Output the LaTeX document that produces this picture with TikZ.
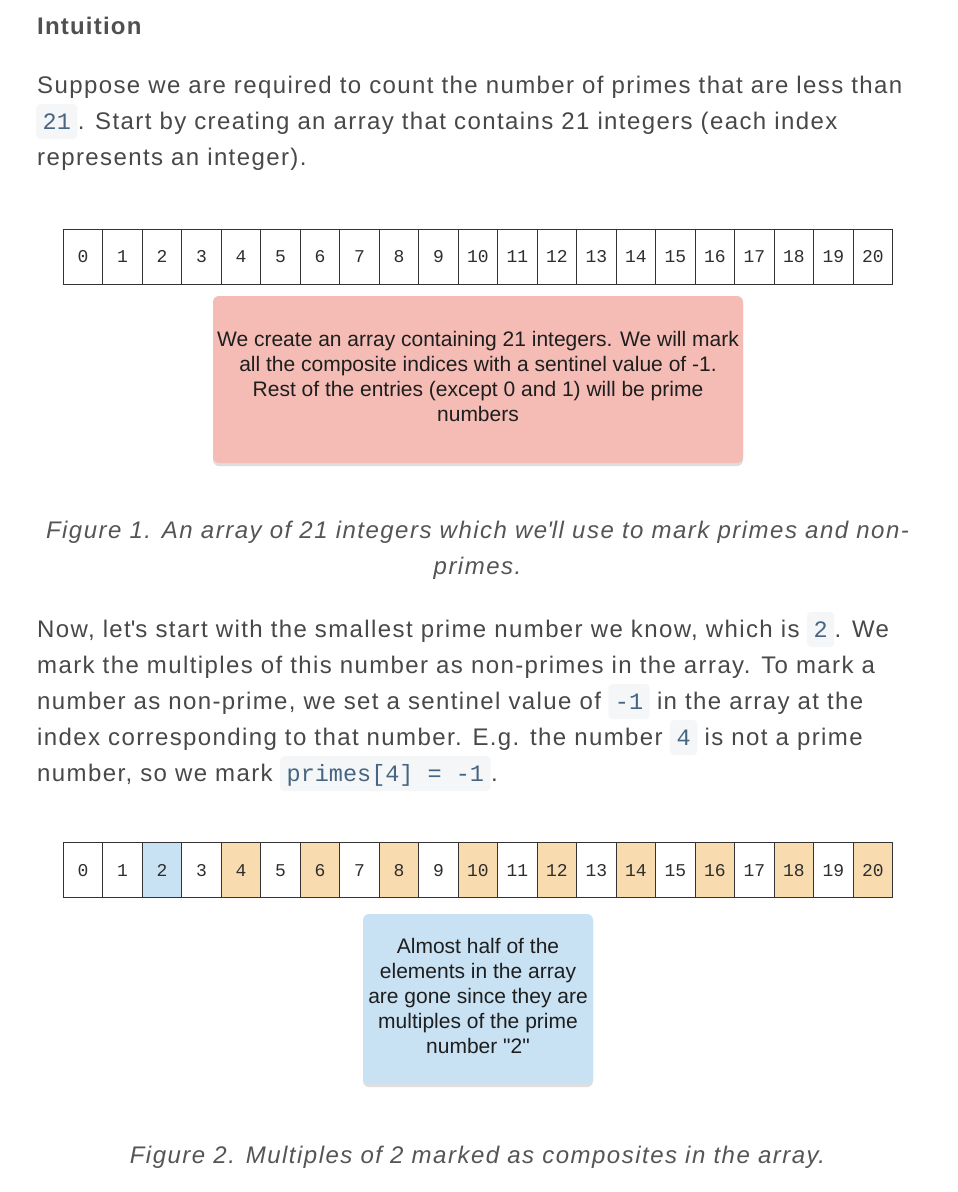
\documentclass[tikz,border=0pt]{standalone}
\usepackage{fontspec}
\setmainfont{Liberation Sans}
\newfontfamily\bodyface[LetterSpace=5.8]{Liberation Sans}
\newfontfamily\capface[LetterSpace=6.2]{Liberation Sans}
\newfontfamily\headface[LetterSpace=5]{Liberation Sans}
\newfontfamily\plainface{Liberation Sans}
\newfontfamily\codeface{Liberation Mono}
\usetikzlibrary{shadows}
\definecolor{bodygray}{HTML}{484848}
\definecolor{capgray}{HTML}{555555}
\definecolor{headgray}{HTML}{505050}
\definecolor{codebg}{HTML}{F4F6F8}
\definecolor{codeblue}{HTML}{476582}
\definecolor{cellline}{HTML}{333333}
\definecolor{celltext}{HTML}{2E2E2E}
\definecolor{pinkfill}{HTML}{F4BCB4}
\definecolor{bluefill}{HTML}{C8E2F4}
\definecolor{orangefill}{HTML}{F9DBB0}
\definecolor{notetext}{HTML}{1E1E1E}
\tikzset{
  body/.style={inner sep=0pt, anchor=base west, text=bodygray,
    font=\bodyface\fontsize{24}{36}\selectfont},
  caption/.style={inner sep=0pt, anchor=base, text=capgray,
    font=\capface\itshape\fontsize{24}{36}\selectfont},
  codebox/.style={fill=codebg, rounded corners=4pt, inner xsep=6.5pt, inner ysep=0pt,
    text height=25pt, text depth=10pt, anchor=base west, text=codeblue,
    font=\codeface\fontsize{23.5}{30}\selectfont},
  cell/.style={draw=cellline, line width=1pt, minimum width=39.5pt, minimum height=55pt,
    inner sep=0pt, anchor=north west, text=celltext,
    font=\codeface\fontsize{18}{20}\selectfont},
  notebox/.style={rounded corners=6pt, inner sep=0pt,
    drop shadow={shadow xshift=0pt, shadow yshift=-3pt, opacity=0.18, fill=black!70}},
  notetxt/.style={align=center, inner sep=0pt, text=notetext,
    font=\plainface\fontsize{21}{25}\selectfont},
  sp/.style={xshift=7pt},
}
\begin{document}
\begin{tikzpicture}[x=1pt,y=-1pt]
\useasboundingbox (0,0) rectangle (958,1192);
\fill[white] (0,0) rectangle (958,1192);

% heading
\node[inner sep=0pt, anchor=base west, text=headgray,
  font=\headface\bfseries\fontsize{24}{30}\selectfont] (head) at (37,34) {Intuition};

% paragraph 1
\node[body] (l1) at (37,93) {Suppose we are required to count the number of primes that are less than};
\node[codebox] (k21) at (36,129) {21};
\node[body] (l2) at (k21.base east) {. Start by creating an array that contains 21 integers (each index};
\node[body] (l3) at (37,165) {represents an integer).};

% array 1
\foreach \i in {0,...,20} {
  \pgfmathsetmacro\xx{62.7+39.5*\i}
  \node[cell] (a\i) at (\xx,228.5) {\i};
}

% note 1
\node[notebox, fill=pinkfill, minimum width=530pt, minimum height=167pt] (note1) at (478,379.5) {};
\node[notetxt] (note1t) at ([yshift=3pt]note1.center)
  {We create an array containing 21 integers. We will mark\\all the composite indices with a sentinel value of -1.\\Rest of the entries (except 0 and 1) will be prime\\numbers};

% caption 1
\node[caption] (cap1a) at (477.5,538) {Figure 1. An array of 21 integers which we\textquotesingle ll use to mark primes and non-};
\node[caption] (cap1b) at (477.5,574) {primes.};

% paragraph 2
\node[body] (m1) at (37,637) {Now, let\textquotesingle s start with the smallest prime number we know, which is};
\node[codebox] (k2) at ([sp]m1.base east) {2};
\node[body] (m1b) at (k2.base east) {. We};
\node[body] (m2) at (37,673) {mark the multiples of this number as non-primes in the array. To mark a};
\node[body] (m3) at (37,709) {number as non-prime, we set a sentinel value of};
\node[codebox] (km1) at ([sp]m3.base east) {-1};
\node[body] (m3b) at ([sp]km1.base east) {in the array at the};
\node[body] (m4) at (37,745) {index corresponding to that number. E.g. the number};
\node[codebox] (k4) at ([sp]m4.base east) {4};
\node[body] (m4b) at ([sp]k4.base east) {is not a prime};
\node[body] (m5) at (37,781) {number, so we mark};
\node[codebox] (kpr) at ([sp]m5.base east) {primes[4] = -1};
\node[body] (m5b) at (kpr.base east) {.};

% array 2
\foreach \i/\f in {0/white,1/white,2/bluefill,3/white,4/orangefill,5/white,6/orangefill,
  7/white,8/orangefill,9/white,10/orangefill,11/white,12/orangefill,13/white,14/orangefill,
  15/white,16/orangefill,17/white,18/orangefill,19/white,20/orangefill} {
  \pgfmathsetmacro\xx{62.7+39.5*\i}
  \node[cell, fill=\f] (b\i) at (\xx,842.3) {\i};
}

% note 2
\node[notebox, fill=bluefill, minimum width=230pt, minimum height=170pt] (note2) at (478,999) {};
\node[notetxt] (note2t) at ([yshift=3pt]note2.center)
  {Almost half of the\\elements in the array\\are gone since they are\\multiples of the prime\\number "2"};

% caption 2
\node[caption] (cap2) at (477.5,1163) {Figure 2. Multiples of 2 marked as composites in the array.};
\end{tikzpicture}
\end{document}
